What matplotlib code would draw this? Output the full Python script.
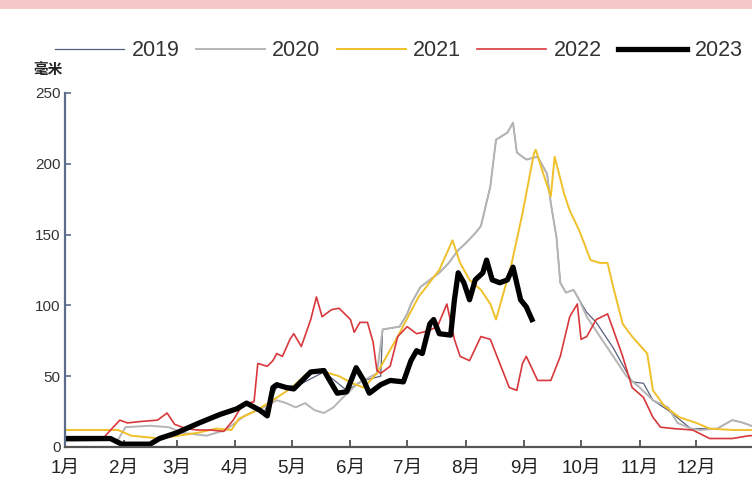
import matplotlib
matplotlib.use("Agg")
import matplotlib.pyplot as plt
from matplotlib import font_manager
from matplotlib.patches import Rectangle

names = {f.name for f in font_manager.fontManager.ttflist}
num_font = 'Liberation Sans Narrow' if 'Liberation Sans Narrow' in names else 'Liberation Sans'
plt.rcParams['font.family'] = [num_font, 'Noto Sans CJK SC', 'DejaVu Sans']

# ---- data (day of year, millimetres) ----
month_days = [0, 31, 59, 90, 120, 151, 181, 212, 243, 273, 304, 334]
month_labels = ['1月', '2月', '3月', '4月', '5月', '6月', '7月', '8月', '9月', '10月', '11月', '12月']
y_ticks = [0, 50, 100, 150, 200, 250]
unit_label = '毫米'

days_2019 = [0, 24, 30, 45, 59, 82, 96, 105, 112, 124, 137, 149, 158, 167, 168, 177, 181, 183, 188, 193, 198, 203, 208, 212, 217, 220, 225, 228, 234, 237, 239, 244, 250, 255, 257, 260, 262, 265, 269, 272, 276, 281, 290, 300, 306, 311, 319, 331, 345, 353, 359, 365]
vals_2019 = [6, 6, 2, 2, 10, 23, 30, 24, 42, 44, 53, 40, 47, 50, 83, 85, 94, 101, 113, 118, 123, 130, 139, 144, 151, 156, 184, 217, 222, 229, 208, 203, 205, 193, 172, 148, 116, 109, 111, 104, 95, 88, 70, 46, 45, 33, 26, 13, 13, 19, 17, 14]

days_2020 = [0, 28, 32, 45, 55, 62, 75, 85, 95, 105, 112, 117, 122, 127, 132, 137, 142, 147, 155, 165, 168, 177, 181, 183, 188, 193, 198, 203, 208, 212, 217, 220, 225, 228, 234, 237, 239, 244, 250, 255, 257, 260, 262, 265, 269, 272, 276, 283, 290, 297, 304, 311, 319, 324, 331, 336, 345, 353, 359, 365]
vals_2020 = [4, 5, 14, 15, 14, 10, 8, 12, 22, 28, 33, 31, 28, 31, 26, 24, 28, 35, 45, 52, 83, 85, 94, 101, 113, 118, 123, 130, 139, 144, 151, 156, 184, 217, 222, 229, 208, 203, 205, 193, 172, 148, 116, 109, 111, 104, 92, 78, 64, 50, 42, 33, 28, 17, 13, 12, 13, 19, 17, 14]

days_2021 = [0, 28, 35, 50, 60, 70, 80, 88, 92, 100, 110, 120, 128, 135, 145, 152, 158, 165, 176, 187, 198, 205, 209, 214, 220, 225, 228, 236, 242, 248, 249, 253, 257, 259, 264, 267, 272, 278, 283, 287, 290, 295, 300, 308, 311, 317, 325, 334, 341, 353, 365]
vals_2021 = [12, 12, 8, 6, 8, 10, 13, 12, 20, 25, 33, 42, 52, 54, 50, 45, 42, 52, 78, 106, 125, 146, 130, 118, 111, 101, 90, 128, 165, 207, 210, 193, 177, 205, 179, 167, 153, 132, 130, 130, 113, 87, 78, 66, 40, 29, 21, 17, 13, 12, 12]

days_2022 = [0, 20, 29, 33, 40, 49, 54, 58, 64, 70, 77, 84, 89, 94, 100, 102, 107, 110, 112, 115, 119, 121, 125, 130, 133, 136, 141, 145, 151, 153, 156, 160, 163, 165, 167, 172, 176, 181, 186, 192, 197, 202, 206, 209, 214, 220, 225, 230, 235, 239, 242, 244, 250, 257, 262, 267, 271, 273, 276, 281, 287, 290, 295, 300, 306, 311, 315, 322, 332, 341, 353, 362, 365]
vals_2022 = [5, 6, 19, 17, 18, 19, 24, 16, 13, 12, 12, 11, 19, 30, 32, 59, 57, 61, 66, 64, 76, 80, 71, 90, 106, 92, 97, 98, 90, 81, 88, 88, 74, 54, 52, 57, 78, 85, 80, 82, 85, 101, 76, 64, 61, 78, 76, 59, 42, 40, 59, 64, 47, 47, 64, 92, 101, 76, 78, 90, 94, 83, 64, 42, 35, 21, 14, 13, 12, 6, 6, 8, 8]

days_2023 = [0, 24, 30, 45, 50, 59, 71, 82, 91, 96, 103, 107, 110, 112, 117, 121, 124, 130, 137, 140, 144, 149, 154, 158, 161, 167, 172, 179, 183, 186, 189, 193, 195, 198, 204, 206, 208, 211, 214, 217, 221, 223, 226, 230, 234, 237, 241, 244, 247]
vals_2023 = [6, 6, 2, 2, 6, 10, 17, 23, 27, 31, 26, 22, 42, 44, 42, 41, 45, 53, 54, 47, 38, 39, 56, 47, 38, 44, 47, 46, 61, 68, 66, 87, 90, 80, 79, 104, 123, 116, 104, 118, 123, 132, 118, 116, 118, 127, 104, 99, 90]

series = [
    ('2019', days_2019, vals_2019, '#55607a', 0.9),
    ('2020', days_2020, vals_2020, '#b5b5b5', 1.4),
    ('2021', days_2021, vals_2021, '#f0c02a', 1.4),
    ('2022', days_2022, vals_2022, '#d8383c', 1.2),
    ('2023', days_2023, vals_2023, '#000000', 3.8),
]

fig = plt.figure(figsize=(7.52, 4.92), dpi=100)
fig.patches.append(Rectangle((0, 1 - 9 / 492), 1, 9 / 492, transform=fig.transFigure,
                             facecolor='#f6c9c9', edgecolor='none'))

ax = fig.add_axes([65 / 752, 45 / 492, 690 / 752, 354 / 492])
for name, d, v, c, lw in series:
    ax.plot(d, v, color=c, lw=lw, label=name, solid_joinstyle='round')

ax.set_xlim(0, 365)
ax.set_ylim(0, 250)
ax.set_yticks(y_ticks)
ax.set_yticklabels([str(t) for t in y_ticks], fontsize=11, color='#333333')
ax.set_xticks(month_days)
ax.set_xticklabels(month_labels, fontsize=13.5, color='#222222')
ax.tick_params(axis='y', direction='in', length=4, width=1.2, color='#5b6b8c', pad=3)
ax.tick_params(axis='x', direction='in', length=5, width=1.2, color='#444444', pad=9)
for s in ['top', 'right']:
    ax.spines[s].set_visible(False)
ax.spines['left'].set_color('#5b6b8c')
ax.spines['left'].set_linewidth(1.6)
ax.spines['bottom'].set_color('#555555')
ax.spines['bottom'].set_linewidth(1.6)

fig.text(48 / 752, 1 - 70 / 492, unit_label, fontsize=10.5, fontweight='bold',
         ha='center', va='center', color='#222222')

fig.legend(loc='center', bbox_to_anchor=(399 / 752, 1 - 51 / 492), ncol=5, frameon=False,
           fontsize=15.5, handlelength=3.2, handletextpad=0.36, columnspacing=0.75,
           labelcolor='#333333')

fig.savefig('out.png', dpi=100)
